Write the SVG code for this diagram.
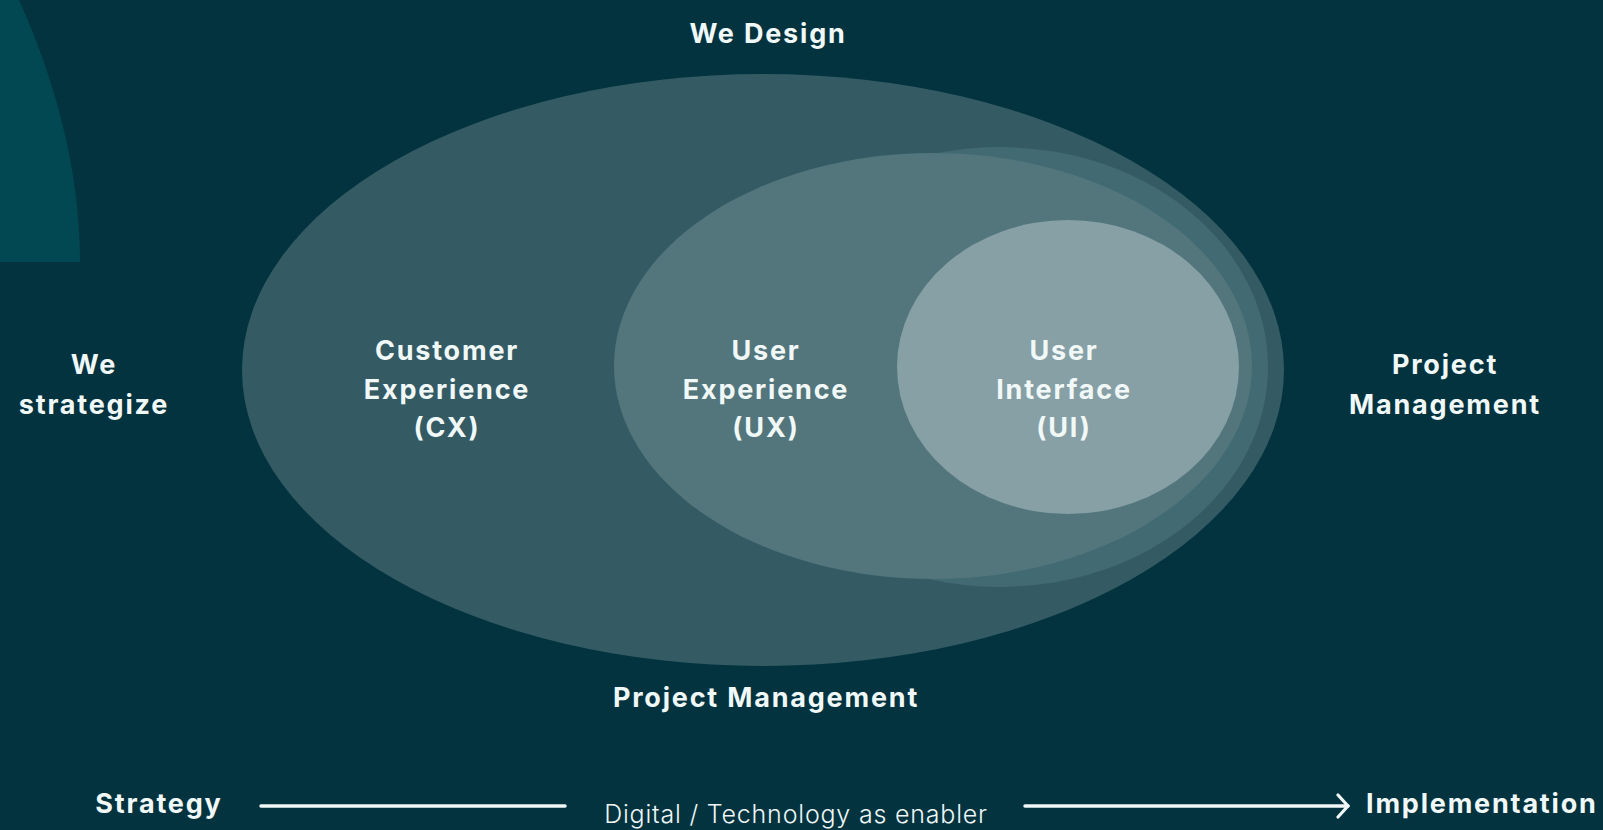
<svg xmlns="http://www.w3.org/2000/svg" width="1603" height="830" viewBox="0 0 1603 830">
  <defs>
    <style>
      .lbl { font-family: Inter, "Open Sans", "Liberation Sans", sans-serif; font-weight: 700; font-size: 27px; letter-spacing: 1.8px; fill: #f1f8f8; text-anchor: middle; }
      .thin { font-family: Inter, "Open Sans", "Liberation Sans", sans-serif; font-weight: 300; font-size: 25px; letter-spacing: 0.8px; fill: #eef6f6; text-anchor: middle; }
      .axis { stroke: #f1f8f8; stroke-width: 3.5; fill: none; stroke-linecap: round; stroke-linejoin: round; }
    </style>
    <marker id="chev" viewBox="0 0 14 26" refX="12" refY="13" markerWidth="14" markerHeight="26" markerUnits="userSpaceOnUse" orient="auto">
      <path d="M2,2 L12,13 L2,24" fill="none" stroke="#f1f8f8" stroke-width="3.2" stroke-linecap="round" stroke-linejoin="round"/>
    </marker>
  </defs>
  <rect width="1603" height="830" fill="#02333f"/>
  <path d="M0,0 H19 C55,80 80,170 80,262 H0 Z" fill="#024853"/>

  <g id="cx">
    <ellipse cx="763" cy="370" rx="521" ry="296" fill="#345b64"/>
    <text class="lbl" x="447" y="360">Customer</text>
    <text class="lbl" x="447" y="399">Experience</text>
    <text class="lbl" x="447" y="437">(CX)</text>
  </g>
  <g id="ring">
    <ellipse cx="1000" cy="367" rx="268" ry="220" fill="#426a72"/>
  </g>
  <g id="ux">
    <ellipse cx="933" cy="366" rx="319" ry="213" fill="#52767c"/>
    <text class="lbl" x="766" y="360">User</text>
    <text class="lbl" x="766" y="399">Experience</text>
    <text class="lbl" x="766" y="437">(UX)</text>
  </g>
  <g id="ui">
    <ellipse cx="1068" cy="367" rx="171" ry="147" fill="#87a0a5"/>
    <text class="lbl" x="1064" y="360">User</text>
    <text class="lbl" x="1064" y="399">Interface</text>
    <text class="lbl" x="1064" y="437">(UI)</text>
  </g>

  <g id="we-design"><text class="lbl" x="768" y="43">We Design</text></g>
  <g id="we-strategize">
    <text class="lbl" x="94" y="374">We</text>
    <text class="lbl" x="94" y="414">strategize</text>
  </g>
  <g id="pm-right">
    <text class="lbl" x="1445" y="374">Project</text>
    <text class="lbl" x="1445" y="414">Management</text>
  </g>
  <g id="pm-bottom"><text class="lbl" x="766" y="707">Project Management</text></g>

  <g id="strategy"><text class="lbl" x="159" y="813">Strategy</text></g>
  <g id="enabler"><text class="thin" x="796" y="823">Digital / Technology as enabler</text></g>
  <g id="implementation"><text class="lbl" x="1366" y="813" style="text-anchor:start">Implementation</text></g>

  <g id="connectors">
    <line class="axis" x1="261" y1="806" x2="565" y2="806"/>
    <line class="axis" x1="1025" y1="806" x2="1348" y2="806" marker-end="url(#chev)"/>
  </g>
</svg>
